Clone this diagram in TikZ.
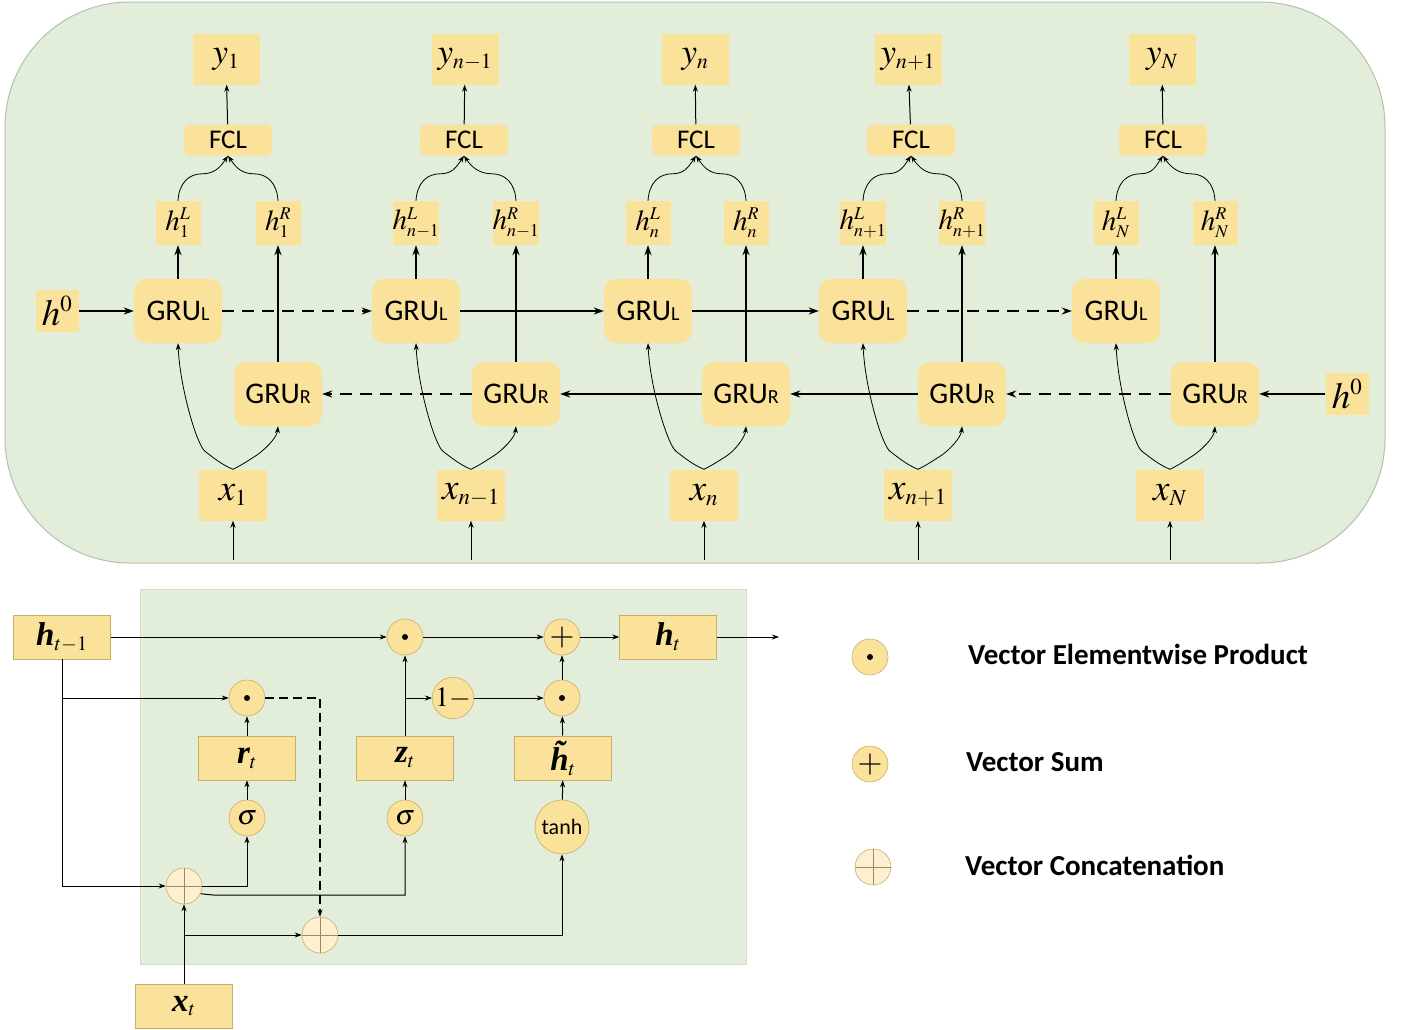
\documentclass[tikz,border=0pt]{standalone}
\usepackage{mathptmx}
\usepackage[no-math]{fontspec}
\newfontfamily\carl{Carlito}
\newfontfamily\tms{Liberation Serif}
\usetikzlibrary{arrows.meta,calc}
\makeatletter
\def\defaultscriptratio{.62}
\makeatother
\definecolor{boxc}{HTML}{FBE29A}
\definecolor{bgc}{HTML}{E2EDDA}
\definecolor{catfill}{HTML}{FDF0D2}
\definecolor{circb}{HTML}{C9AE6A}
\definecolor{panelb}{HTML}{B5BFAE}
\newcommand\bi[1]{{\tms\bfseries\itshape #1}}
\newcommand\gruL{GRU{\fontsize{20}{24}\selectfont L}}
\newcommand\gruR{GRU{\fontsize{20}{24}\selectfont R}}
\tikzset{
 ar/.style={-{Stealth[length=10pt,width=7pt]}, line width=1.6pt},
 tar/.style={-{Stealth[length=7pt,width=5pt]}, line width=1pt},
 car/.style={-{Stealth[length=7pt,width=5pt]}, line width=0.8pt},
 dsh/.style={dash pattern=on 12pt off 8pt},
 grub/.style={rectangle, rounded corners=12pt, fill=boxc, minimum width=88pt, minimum height=64pt, inner sep=0pt, font=\carl\fontsize{30}{34}\selectfont},
 fclb/.style={rectangle, rounded corners=6pt, fill=boxc, minimum width=88pt, minimum height=31pt, inner sep=0pt, font=\carl\fontsize{27}{30}\selectfont},
 ybox/.style={rectangle, fill=boxc, minimum width=67pt, minimum height=51pt, inner sep=0pt, font=\fontsize{35}{40}\selectfont},
 hbox/.style={rectangle, fill=boxc, minimum width=45pt, minimum height=44pt, inner sep=0pt, font=\fontsize{29}{34}\selectfont},
 xbox/.style={rectangle, fill=boxc, minimum width=68pt, minimum height=51pt, inner sep=0pt, font=\fontsize{37}{42}\selectfont},
 hzbox/.style={rectangle, fill=boxc, minimum width=43pt, minimum height=42pt, inner sep=0pt, font=\fontsize{37}{42}\selectfont},
 bbox/.style={rectangle, fill=boxc, draw=circb, line width=0.6pt, minimum width=97pt, minimum height=44pt, inner sep=0pt, font=\fontsize{33}{38}\selectfont},
 opc/.style={circle, fill=boxc, draw=circb, line width=0.6pt, minimum size=36pt, inner sep=0pt, font=\fontsize{28}{32}\selectfont},
 prod/.style={opc, path picture={\fill[black] (path picture bounding box.center) circle (3pt);}},
 concat/.style={circle, fill=catfill, draw=circb, line width=0.6pt, minimum size=36pt, inner sep=0pt,
   path picture={\draw[circb!80!black, line width=0.6pt] (path picture bounding box.north) -- (path picture bounding box.south) (path picture bounding box.west) -- (path picture bounding box.east);}},
 legtext/.style={anchor=west, font=\carl\bfseries\fontsize{29}{34}\selectfont, inner sep=0pt},
}
\begin{document}
\begin{tikzpicture}[x=1pt,y=-1pt]
\useasboundingbox (0,0) rectangle (1401,1029);
\fill[white] (0,0) rectangle (1401,1029);
% top panel
\draw[fill=bgc, draw=panelb, line width=1pt, rounded corners=125pt] (5,2) rectangle (1385,563);
% columns
\foreach \i/\lx/\rx/\fx/\yx/\xx/\s in {1/178/278/228/226/233/1, 2/416/516/464/465/471/n-1, 3/648/746/696/695/704/n, 4/863/962/911/908/918/n+1, 5/1116/1215/1163/1162/1170/N} {
 \node[grub] (L\i) at (\lx,311) {\gruL};
 \node[grub] (R\i) at (\rx,394) {\gruR};
 \node[hbox] (hL\i) at (\lx,223) {$h^{L}_{\s}$};
 \node[hbox] (hR\i) at (\rx,223) {$h^{R}_{\s}$};
 \node[fclb] (F\i) at (\fx,140) {FCL};
 \node[ybox] (Y\i) at (\yx,59) {$y_{\s}$};
 \node[xbox] (X\i) at (\xx,495) {$x_{\s}$};
 \coordinate (in\i) at (\xx,560);
 \draw[ar] (L\i) -- (hL\i);
 \draw[ar] (R\i) -- (hR\i);
 \draw[tar] (F\i) -- (Y\i);
 \draw[tar] (in\i) -- (X\i);
 \draw[car] (hL\i.north) .. controls +(1,-18) and +(-13,0) .. ($(hL\i.north)+(24,-27)$) .. controls +(12,0) and +(-8,12) .. (F\i.south);
 \draw[car] (hR\i.north) .. controls +(-1,-18) and +(13,0) .. ($(hR\i.north)+(-24,-27)$) .. controls +(-12,0) and +(8,12) .. (F\i.south);
 \draw[car] (X\i.north) .. controls +(-12,-5) and +(8,6) .. ($(X\i.north)+(-28,-18)$) .. controls +(-8,-6) and +(2,45) .. (L\i.south);
 \draw[car] (X\i.north) .. controls +(10,-5) and +(-8,5) .. ($(X\i.north)+(22,-13)$) .. controls +(8,-5) and +(-1,12) .. (R\i.south);
}
\node[hzbox] (h0L) at (57,311) {$h^0$};
\node[hzbox] (h0R) at (1347,394) {$h^0$};
\draw[ar] (h0L) -- (L1);
\draw[ar,dsh] (L1) -- (L2);
\draw[ar] (L2) -- (L3);
\draw[ar] (L3) -- (L4);
\draw[ar,dsh] (L4) -- (L5);
\draw[ar] (h0R) -- (R5);
\draw[ar,dsh] (R5) -- (R4);
\draw[ar] (R4) -- (R3);
\draw[ar] (R3) -- (R2);
\draw[ar,dsh] (R2) -- (R1);

% bottom panel
\draw[fill=bgc, draw=bgc!85!gray, line width=0.6pt] (140,589) rectangle (746,964);
\node[bbox] (hprev) at (62,637) {$\mbox{\bi{h}}_{t-1}$};
\node[prod] (P1) at (405,637) {};
\node[prod] (P2) at (247,698) {};
\node[bbox] (Rt) at (247,758) {$\mbox{\bi{r}}_t$};
\node[opc] (S1) at (247,818) {$\sigma$};
\node[bbox] (Zt) at (405,758) {$\mbox{\bi{z}}_t$};
\node[opc] (S2) at (405,818) {$\sigma$};
\node[concat] (C1) at (184,886) {};
\node[concat] (C2) at (320,935) {};
\node[bbox] (Xt) at (184,1006) {$\mbox{\bi{x}}_t$};
\node[opc] (OM) at (453,698) {$1-$};
\node[prod] (P3) at (562,698) {};
\node[opc, font=\fontsize{32}{36}\selectfont] (Plus) at (562,637) {$+$};
\node[bbox] (Ht) at (563,758) {$\mbox{\bi{\~h}}_t$};
\node[opc, minimum size=54pt, font=\carl\fontsize{22}{26}\selectfont] (Tanh) at (562,827) {tanh};
\node[bbox] (Hout) at (668,637) {$\mbox{\bi{h}}_t$};
\coordinate (out) at (779,637);
\coordinate (k1) at (213,895);

\draw[tar] (hprev) -- (P1);
\draw[tar] (hprev.south) |- (C1);
\draw[tar] (hprev.south |- P2) -- (P2);
\draw[tar,dash pattern=on 9pt off 5pt, line width=1.2pt] (P2) -| (C2);
\draw[tar] (C1) -| (S1);
\draw[tar] (C1.-25) -- (k1) -| (S2);
\draw[tar] (Xt) -- (C1);
\draw[tar] (Xt.north |- C2) -- (C2);
\draw[tar] (C2) -| (Tanh);
\draw[tar] (S1) -- (Rt);
\draw[tar] (Rt) -- (P2);
\draw[tar] (S2) -- (Zt);
\draw[tar] (Zt) -- (P1);
\draw[tar] (Zt.north |- OM) -- (OM);
\draw[tar] (OM) -- (P3);
\draw[tar] (Tanh) -- (Ht);
\draw[tar] (Ht) -- (P3);
\draw[tar] (P3) -- (Plus);
\draw[tar] (P1) -- (Plus);
\draw[tar] (Plus) -- (Hout);
\draw[tar] (Hout) -- (out);

% legend
\node[prod] (LP) at (870,657) {};
\node[opc, font=\fontsize{32}{36}\selectfont] (LS) at (870,764) {$+$};
\node[concat] (LC) at (873,867) {};
\node[legtext] (T1) at (968,654) {Vector Elementwise Product};
\node[legtext] (T2) at (966,762) {Vector Sum};
\node[legtext] (T3) at (965,865) {Vector Concatenation};
\end{tikzpicture}
\end{document}
